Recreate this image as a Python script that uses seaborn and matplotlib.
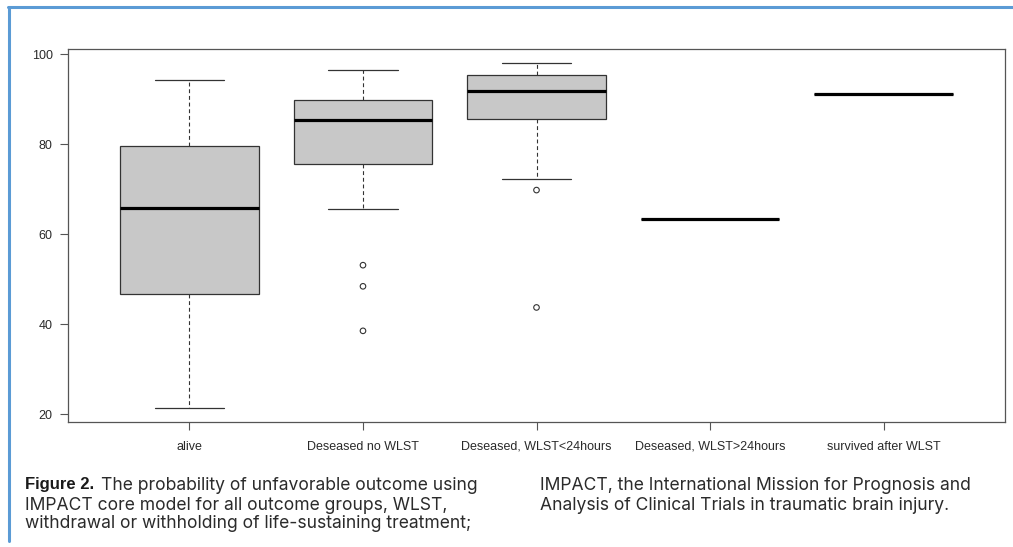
import matplotlib
matplotlib.use("Agg")
import matplotlib.pyplot as plt
from matplotlib.lines import Line2D
import seaborn as sns
import pandas as pd

sns.set_theme(style="white")
plt.rcParams["font.family"] = ["Liberation Sans", "DejaVu Sans"]

# box summaries (probability of unfavorable outcome, %)
groups = ["alive", "Deseased no WLST", "Deseased, WLST<24hours",
          "Deseased, WLST>24hours", "survived after WLST"]
whisker_lo = [21.3, 65.6, 72.3, 63.3, 91.2]
q1 = [46.8, 75.7, 85.6, 63.3, 91.2]
median = [65.9, 85.3, 91.9, 63.3, 91.2]
q3 = [79.6, 89.8, 95.3, 63.3, 91.2]
whisker_hi = [94.2, 96.5, 98.1, 63.3, 91.2]

outlier_group = ["Deseased no WLST"] * 3 + ["Deseased, WLST<24hours"] * 2
outlier_value = [53.1, 48.4, 38.5, 69.8, 43.7]

yticks = [20, 40, 60, 80, 100]

caption_left = ["The probability of unfavorable outcome using",
                "IMPACT core model for all outcome groups, WLST,",
                "withdrawal or withholding of life-sustaining treatment;"]
caption_right = ["IMPACT, the International Mission for Prognosis and",
                 "Analysis of Clinical Trials in traumatic brain injury."]

rows = []
for g, a, b, c, d, e in zip(groups, whisker_lo, q1, median, q3, whisker_hi):
    for v in (a, b, c, d, e):
        rows.append({"group": g, "value": v})
df = pd.DataFrame(rows)
out = pd.DataFrame({"group": outlier_group, "value": outlier_value})

fig = plt.figure(figsize=(10.13, 5.47), dpi=100)
ax = fig.add_axes([68 / 1013, 1 - 422 / 547, 937 / 1013, 373 / 547])

edge = "#333333"
sns.boxplot(data=df, x="group", y="value", order=groups, ax=ax,
            color="#c8c8c8", saturation=1, width=0.8, whis=(0, 100),
            showfliers=False, linecolor=edge, linewidth=0.9,
            medianprops={"color": "black", "linewidth": 2.3},
            whiskerprops={"linestyle": (0, (3.5, 2.5)), "linewidth": 0.8},
            capprops={"linewidth": 0.9})
sns.stripplot(data=out, x="group", y="value", order=groups, ax=ax,
              jitter=False, size=4, marker="o", facecolor="none",
              edgecolor=edge, linewidth=0.8, zorder=4)

lo = min(whisker_lo + outlier_value)
hi = max(whisker_hi + outlier_value)
ext = (hi - lo) * 0.04
ax.set_ylim(lo - ext, hi + ext)
ax.set_xlim(-0.7, len(groups) - 0.3)
ax.set_yticks(yticks)
ax.set_yticklabels([str(t) for t in yticks])
ax.set_xlabel("")
ax.set_ylabel("")

for s in ax.spines.values():
    s.set_visible(True)
    s.set_color("#555555")
    s.set_linewidth(0.9)
ax.tick_params(axis="both", direction="out", length=5.5, width=0.8,
               color="#555555", labelsize=9, labelcolor="#2a2a2a")
ax.tick_params(axis="x", pad=8)
ax.tick_params(axis="y", pad=5.5)
ax.tick_params(bottom=True, left=True)

# blue frame around the figure panel
blue = "#5b9bd5"
fig.add_artist(Line2D([8 / 1013, 1.0], [1 - 7 / 547, 1 - 7 / 547],
                      color=blue, lw=2.2, transform=fig.transFigure))
fig.add_artist(Line2D([8.5 / 1013, 8.5 / 1013], [1 - 7 / 547, 1 - 541 / 547],
                      color=blue, lw=2.2, transform=fig.transFigure))

# caption
cap_color = "#2b2b2b"
cap_font = ["Inter", "DejaVu Sans"]
cap_size = 12.6
line_y = [485, 505, 524]
fig.text(25 / 1013, 1 - line_y[0] / 547, "Figure 2.", fontsize=12,
         fontweight="bold", color="#1a1a1a", va="center")
fig.text(101 / 1013, 1 - line_y[0] / 547, caption_left[0], fontsize=cap_size,
         color=cap_color, va="center", family=cap_font)
for txt, yy in zip(caption_left[1:], line_y[1:]):
    fig.text(25 / 1013, 1 - yy / 547, txt, fontsize=cap_size, color=cap_color,
             va="center", family=cap_font)
for txt, yy in zip(caption_right, line_y):
    fig.text(540 / 1013, 1 - yy / 547, txt, fontsize=cap_size, color=cap_color,
             va="center", family=cap_font)

fig.savefig("out.png", dpi=100)
